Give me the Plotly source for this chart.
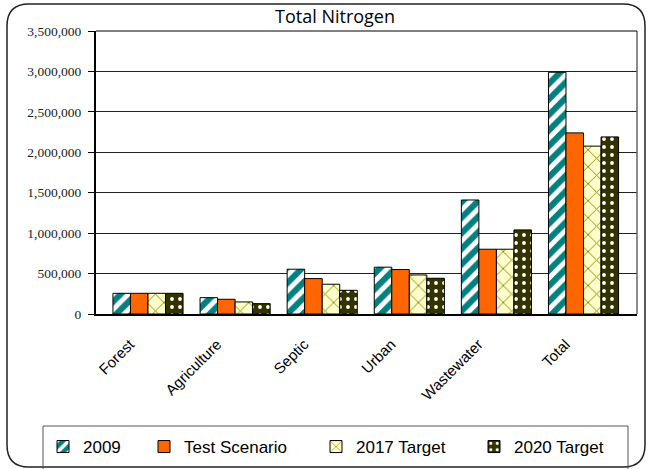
import plotly.graph_objects as go

categories = ["Forest", "Agriculture", "Septic", "Urban", "Wastewater", "Total"]
series_names = ["2009", "Test Scenario", "2017 Target", "2020 Target"]
v2009 = [256000, 202000, 554000, 579000, 1410000, 2990000]
vtest = [256000, 182000, 438000, 550000, 801000, 2240000]
v2017 = [256000, 149000, 368000, 483000, 801000, 2076000]
v2020 = [256000, 128000, 293000, 442000, 1040000, 2190000]
y_ticks = [0, 500000, 1000000, 1500000, 2000000, 2500000, 3000000, 3500000]

W, H = 648, 469
L, R, T, B = 96, 637, 31, 314


def px_x(x):
    return (x - L) / (R - L)


def px_y(y):
    return (B - y) / (B - T)


patterns = [
    dict(shape="/", bgcolor="#008080", fgcolor="#FFFFFF", size=11, solidity=0.45),
    None,
    dict(shape="x", bgcolor="#FFFFCC", fgcolor="#8A8A00", size=12, solidity=0.15),
    dict(shape=".", bgcolor="#333300", fgcolor="#FFFFFF", size=8, solidity=0.18),
]
colors = ["#008080", "#FF6600", "#FFFFCC", "#333300"]
values = [v2009, vtest, v2017, v2020]
legend_ids = ["legend", "legend2", "legend3", "legend4"]

fig = go.Figure()
for name, vals, col, pat, lid in zip(series_names, values, colors, patterns, legend_ids):
    marker = dict(color=col, line=dict(color="#000000", width=1))
    if pat is not None:
        marker["pattern"] = dict(fillmode="replace", **pat)
    fig.add_trace(go.Bar(x=categories, y=vals, name=name, marker=marker,
                         legend=lid, showlegend=True))

# legend item x positions (px)
legend_px = [43, 144, 316, 474]
legend_font = dict(family="Liberation Sans, Arial, sans-serif", size=17, color="#000000")
leg_common = dict(xanchor="left", yanchor="middle", bgcolor="rgba(0,0,0,0)",
                  borderwidth=0, font=legend_font, itemwidth=30, orientation="v")
layout_legends = {}
for lid, lx in zip(legend_ids, legend_px):
    layout_legends[lid] = dict(x=px_x(lx), y=px_y(447), **leg_common)

shapes = [
    dict(type="path", xref="paper", yref="paper",
         path=(f"M {px_x(29)},{px_y(4)} L {px_x(623)},{px_y(4)} "
               f"Q {px_x(645)},{px_y(4)} {px_x(645)},{px_y(26)} "
               f"L {px_x(645)},{px_y(445)} Q {px_x(645)},{px_y(467)} {px_x(623)},{px_y(467)} "
               f"L {px_x(29)},{px_y(467)} Q {px_x(7)},{px_y(467)} {px_x(7)},{px_y(445)} "
               f"L {px_x(7)},{px_y(26)} Q {px_x(7)},{px_y(4)} {px_x(29)},{px_y(4)} Z"),
         line=dict(color="#222222", width=1.5), layer="below"),
    dict(type="rect", xref="paper", yref="paper",
         x0=px_x(43), x1=px_x(628), y0=px_y(426), y1=px_y(480),
         line=dict(color="#555555", width=1), layer="below"),
    dict(type="line", xref="paper", yref="paper", x0=1, x1=1, y0=0, y1=1,
         line=dict(color="#666666", width=1.5)),
    dict(type="line", xref="paper", yref="paper", x0=0, x1=1, y0=1, y1=1,
         line=dict(color="#000000", width=1)),
]

fig.update_layout(
    width=W, height=H, showlegend=True,
    margin=dict(l=L, r=W - R, t=T, b=H - B, autoexpand=False),
    paper_bgcolor="#FFFFFF", plot_bgcolor="#FFFFFF",
    barmode="group", bargap=0.195, bargroupgap=0,
    title=dict(text="Total Nitrogen", x=335 / W, xref="container", xanchor="center",
               y=1 - 17 / H, yref="container", yanchor="middle",
               font=dict(family="Open Sans, sans-serif", size=18, color="#000000")),
    shapes=shapes,
    **layout_legends,
)

fig.update_xaxes(
    type="category", range=[-0.597, 5.614], tickangle=-45,
    tickfont=dict(family="Liberation Sans, Arial, sans-serif", size=15, color="#000000"),
    showline=True, linecolor="#000000", linewidth=1.5, showgrid=False, ticks="",
    ticklabelstandoff=14, ticklabelshift=-18,
)
fig.update_yaxes(
    range=[0, 3500000], tickvals=y_ticks, tickformat=",d",
    tickfont=dict(family="Liberation Serif, Times New Roman, serif", size=13.5, color="#222222"),
    showline=True, linecolor="#000000", linewidth=2,
    showgrid=True, gridcolor="#222222", gridwidth=1,
    ticks="outside", ticklen=6, tickcolor="#000000", tickwidth=1,
    zeroline=False, ticklabelstandoff=4,
)

fig.write_html("out.html", config={"displayModeBar": False},
               post_script="document.body.style.margin='0';document.body.style.overflow='hidden';")
